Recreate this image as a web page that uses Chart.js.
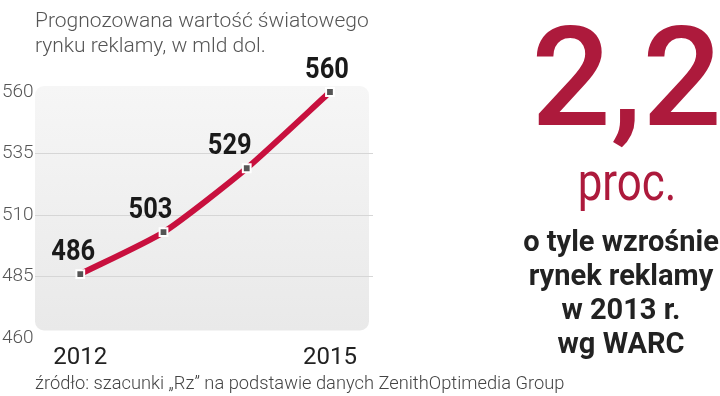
<!DOCTYPE html>
<html>
<head>
<meta charset="utf-8">
<script src="https://cdn.jsdelivr.net/npm/chart.js@4/dist/chart.umd.min.js"></script>
<style>
  html, body { margin: 0; padding: 0; background: #ffffff; }
  #wrap { position: relative; width: 720px; height: 396px; overflow: hidden; background: #fff; }
  #c { position: absolute; left: 0; top: 0; }
  .t { position: absolute; white-space: nowrap; margin: 0; }
  #title { left: 35px; top: 8px; font: 300 21px/25px Roboto, "Noto Sans", sans-serif; color: #555; }
  #big { left: 420px; width: 413px; top: 7px; text-align: center; font: 500 140px/140px Roboto, "Noto Sans", sans-serif; color: #ad1a3c; }
  #proc { left: 527px; width: 200px; top: 157px; text-align: center; font: 400 51px/51px Roboto, "Noto Sans", sans-serif; color: #ad1a3c; transform: scaleX(0.86); transform-origin: 100px 0; }
  #note { left: 521px; width: 200px; top: 225px; text-align: center; font: 700 29px/33.9px Roboto, "Noto Sans", sans-serif; color: #222; }
  #src { left: 35px; top: 373px; font: 300 18.3px/20px Roboto, "Noto Sans", sans-serif; color: #444; }
</style>
</head>
<body>
<div id="wrap">
  <canvas id="c" width="720" height="396"></canvas>
  <div class="t" id="title">Prognozowana wartość światowego<br>rynku reklamy, w mld dol.</div>
  <div class="t" id="big">2,2</div>
  <div class="t" id="proc">proc.</div>
  <div class="t" id="note">o tyle wzrośnie<br>rynek reklamy<br>w 2013 r.<br>wg WARC</div>
  <div class="t" id="src">źródło: szacunki „Rz” na podstawie danych ZenithOptimedia Group</div>
</div>
<script>
// ---- data ----
const years = [2012, 2013, 2014, 2015];
const values = [486, 503, 529, 560];
const valueLabels = ['486', '503', '529', '560'];
const xTickYears = [2012, 2015];
const xTickLabels = ['2012', '2015'];
const yTicks = [460, 485, 510, 535, 560];
const yTickLabels = ['460', '485', '510', '535', '560'];

// ---- styling ----
const labelDx = [-7, -13, -17, -3];
const labelDy = -22;

const bgBox = {
  id: 'bgBox',
  beforeDraw(chart) {
    const a = chart.chartArea, ctx = chart.ctx;
    const l = a.left, r = a.right - 4, t = a.top - 6, b = a.bottom - 7.5, rad = 9;
    const g = ctx.createLinearGradient(0, t, 0, b);
    g.addColorStop(0, '#f6f6f6');
    g.addColorStop(1, '#e9e9e9');
    ctx.save();
    ctx.fillStyle = g;
    ctx.beginPath();
    ctx.roundRect(l, t, r - l, b - t, rad);
    ctx.fill();
    ctx.restore();
  }
};

const valueLabelPlugin = {
  id: 'valueLabels',
  afterDatasetsDraw(chart) {
    const ctx = chart.ctx;
    const meta = chart.getDatasetMeta(0);
    meta.data.forEach((pt, i) => {
      ctx.save();
      ctx.translate(pt.x + labelDx[i], pt.y + labelDy);
      ctx.scale(0.85, 1);
      ctx.font = 'bold 30px Roboto, "Noto Sans", sans-serif';
      ctx.fillStyle = '#1a1a1a';
      ctx.textAlign = 'center';
      ctx.textBaseline = 'middle';
      ctx.fillText(valueLabels[i], 0, 0);
      ctx.restore();
    });
  }
};

new Chart(document.getElementById('c'), {
  type: 'line',
  data: {
    datasets: [{
      data: years.map((y, i) => ({ x: y, y: values[i] })),
      borderColor: '#c8103e',
      borderWidth: 6,
      borderCapStyle: 'round',
      tension: 0.2,
      pointStyle: 'rect',
      pointRadius: 5.5,
      pointHoverRadius: 5.5,
      pointBackgroundColor: '#555555',
      pointBorderColor: '#ffffff',
      pointBorderWidth: 2,
      clip: false
    }]
  },
  options: {
    responsive: false,
    animation: false,
    events: [],
    layout: { padding: { left: 2, top: 92, right: 347, bottom: 0 } },
    plugins: { legend: { display: false }, tooltip: { enabled: false } },
    scales: {
      x: {
        type: 'linear',
        min: 2011.456,
        max: 2015.517,
        afterBuildTicks(s) { s.ticks = xTickYears.map(v => ({ value: v })); },
        afterFit(s) { s.height = 58; },
        ticks: {
          callback: (v) => xTickLabels[xTickYears.indexOf(v)],
          color: '#222',
          font: { family: 'Roboto', size: 24, weight: 400 },
          padding: 6,
          maxRotation: 0,
          autoSkip: false
        },
        grid: { display: false, drawTicks: false },
        border: { display: false }
      },
      y: {
        min: 460,
        max: 560,
        afterBuildTicks(s) { s.ticks = yTicks.map(v => ({ value: v })); },
        afterFit(s) { s.width = 33; },
        ticks: {
          callback: (v) => yTickLabels[yTicks.indexOf(v)],
          color: '#555',
          font: { family: 'Roboto', size: 19, weight: 300 },
          crossAlign: 'far',
          padding: 0
        },
        grid: {
          drawTicks: false,
          color: (c) => (c.tick && (c.tick.value === 460 || c.tick.value === 560)) ? 'rgba(0,0,0,0)' : '#d6d6d6',
          lineWidth: 1
        },
        border: { display: false }
      }
    }
  },
  plugins: [bgBox, valueLabelPlugin]
});
</script>
</body>
</html>
